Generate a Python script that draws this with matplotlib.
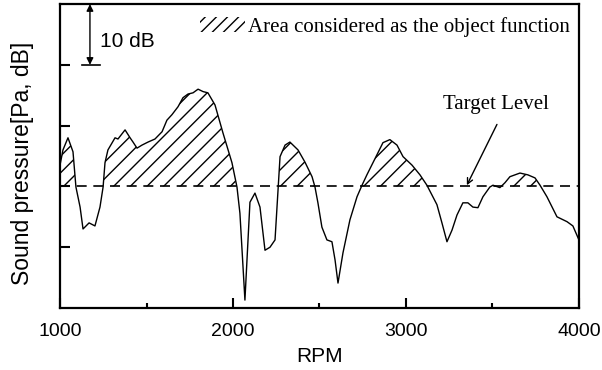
import numpy as np
import matplotlib
matplotlib.use("Agg")
import matplotlib.pyplot as plt
from matplotlib.patches import Patch

# values (RPM, dB relative to the bottom of the frame)
rpm = [1000, 1017, 1046, 1075, 1092, 1116, 1133, 1168, 1202, 1231, 1249, 1260,
       1277, 1318, 1335, 1376, 1405, 1422, 1445, 1474, 1509, 1549, 1590, 1618,
       1647, 1682, 1711, 1740, 1769, 1798, 1827, 1855, 1896, 1942, 1994, 2023,
       2040, 2069, 2098, 2127, 2156, 2185, 2214, 2243, 2272, 2301, 2329, 2376,
       2416, 2457, 2474, 2491, 2514, 2543, 2572, 2590, 2607, 2636, 2676, 2717,
       2746, 2774, 2832, 2867, 2907, 2948, 2983, 3035, 3081, 3121, 3150, 3179,
       3208, 3237, 3266, 3295, 3329, 3358, 3387, 3416, 3445, 3485, 3503, 3543,
       3572, 3601, 3659, 3705, 3746, 3775, 3815, 3873, 3931, 3965, 4000]
spl = [23.5, 26.0, 28.0, 25.7, 19.9, 16.6, 13.0, 14.0, 13.5, 16.6, 19.9, 23.9,
       26.0, 28.0, 27.8, 29.3, 28.0, 27.3, 26.3, 26.8, 27.3, 27.8, 29.0, 30.9,
       31.8, 33.1, 34.6, 35.2, 35.4, 36.0, 35.6, 35.4, 33.4, 28.8, 23.9, 19.9,
       15.6, 1.3, 17.4, 18.9, 16.6, 9.5, 10.0, 11.2, 24.9, 26.8, 27.3, 26.0,
       24.0, 21.6, 19.9, 17.3, 13.3, 11.2, 10.9, 7.9, 4.1, 9.1, 14.5, 18.3,
       20.2, 21.9, 25.2, 27.2, 27.7, 26.8, 24.9, 23.5, 21.9, 20.2, 18.6, 17.0,
       14.0, 10.9, 12.8, 15.3, 17.3, 17.3, 16.6, 16.5, 18.3, 19.9, 20.2, 19.8,
       20.6, 21.6, 22.2, 21.9, 21.4, 20.2, 18.3, 15.0, 14.2, 13.5, 11.2]
target = 20
xticks = [1000, 2000, 3000, 4000]
xminor = [1500, 2500, 3500]
yticks = [10, 20, 30, 40]

rpm = np.array(rpm)
spl = np.array(spl)

plt.rcParams['font.family'] = 'Liberation Sans'
plt.rcParams['hatch.linewidth'] = 1.0

fig = plt.figure(figsize=(6.02, 3.70), dpi=100)
ax = fig.add_axes([0.0997, 0.1676, 0.862, 0.8214])

ax.fill_between(rpm, spl, target, where=spl > target, interpolate=True,
                facecolor='none', edgecolor='black', linewidth=0, hatch='//')
ax.plot(rpm, spl, color='black', lw=1.0)
ax.axhline(target, color='black', lw=1.2, dashes=(6, 4))

ax.set_xlim(1000, 4000)
ax.set_ylim(0, 50)
ax.set_xticks(xticks)
ax.set_xticks(xminor, minor=True)
ax.set_yticks(yticks)
ax.set_yticklabels([])
ax.tick_params(direction='in', width=1.5, length=7, labelsize=14)
ax.tick_params(axis='x', which='minor', direction='in', width=1.5, length=3.5)
ax.tick_params(axis='x', pad=11)
for s in ax.spines.values():
    s.set_linewidth(1.6)

ax.set_xlabel('RPM', fontsize=15, labelpad=5)
ax.set_ylabel('Sound pressure[Pa, dB]', fontsize=16.5)
ax.yaxis.set_label_coords(-0.05, 0.475)

# 10 dB scale bar
ax.annotate('', xy=(1173, 50), xytext=(1173, 40),
            arrowprops=dict(arrowstyle='<|-|>', color='black', lw=1.0,
                            mutation_scale=10, shrinkA=0, shrinkB=0))
ax.plot([1127, 1231], [40, 40], color='black', lw=1.2, clip_on=False)
ax.text(1233, 43.8, '10 dB', fontsize=15, va='center', ha='left')

# target level label
ax.text(3522, 33.5, 'Target Level', fontsize=15, family='Liberation Serif',
        ha='center', va='center')
ax.annotate('', xy=(3352, 20.2), xytext=(3526, 30.2),
            arrowprops=dict(arrowstyle='->', color='black', lw=1.0,
                            shrinkA=0, shrinkB=0))

handle = Patch(facecolor='none', edgecolor='black', linewidth=0, hatch='///')
ax.legend([handle], ['Area considered as the object function'],
          loc='center left', bbox_to_anchor=(0.2697, 0.925), frameon=False,
          prop={'family': 'Liberation Serif', 'size': 15},
          handlelength=2.15, handleheight=0.72, handletextpad=0.15,
          borderpad=0, borderaxespad=0)

fig.savefig('out.png', dpi=100)
